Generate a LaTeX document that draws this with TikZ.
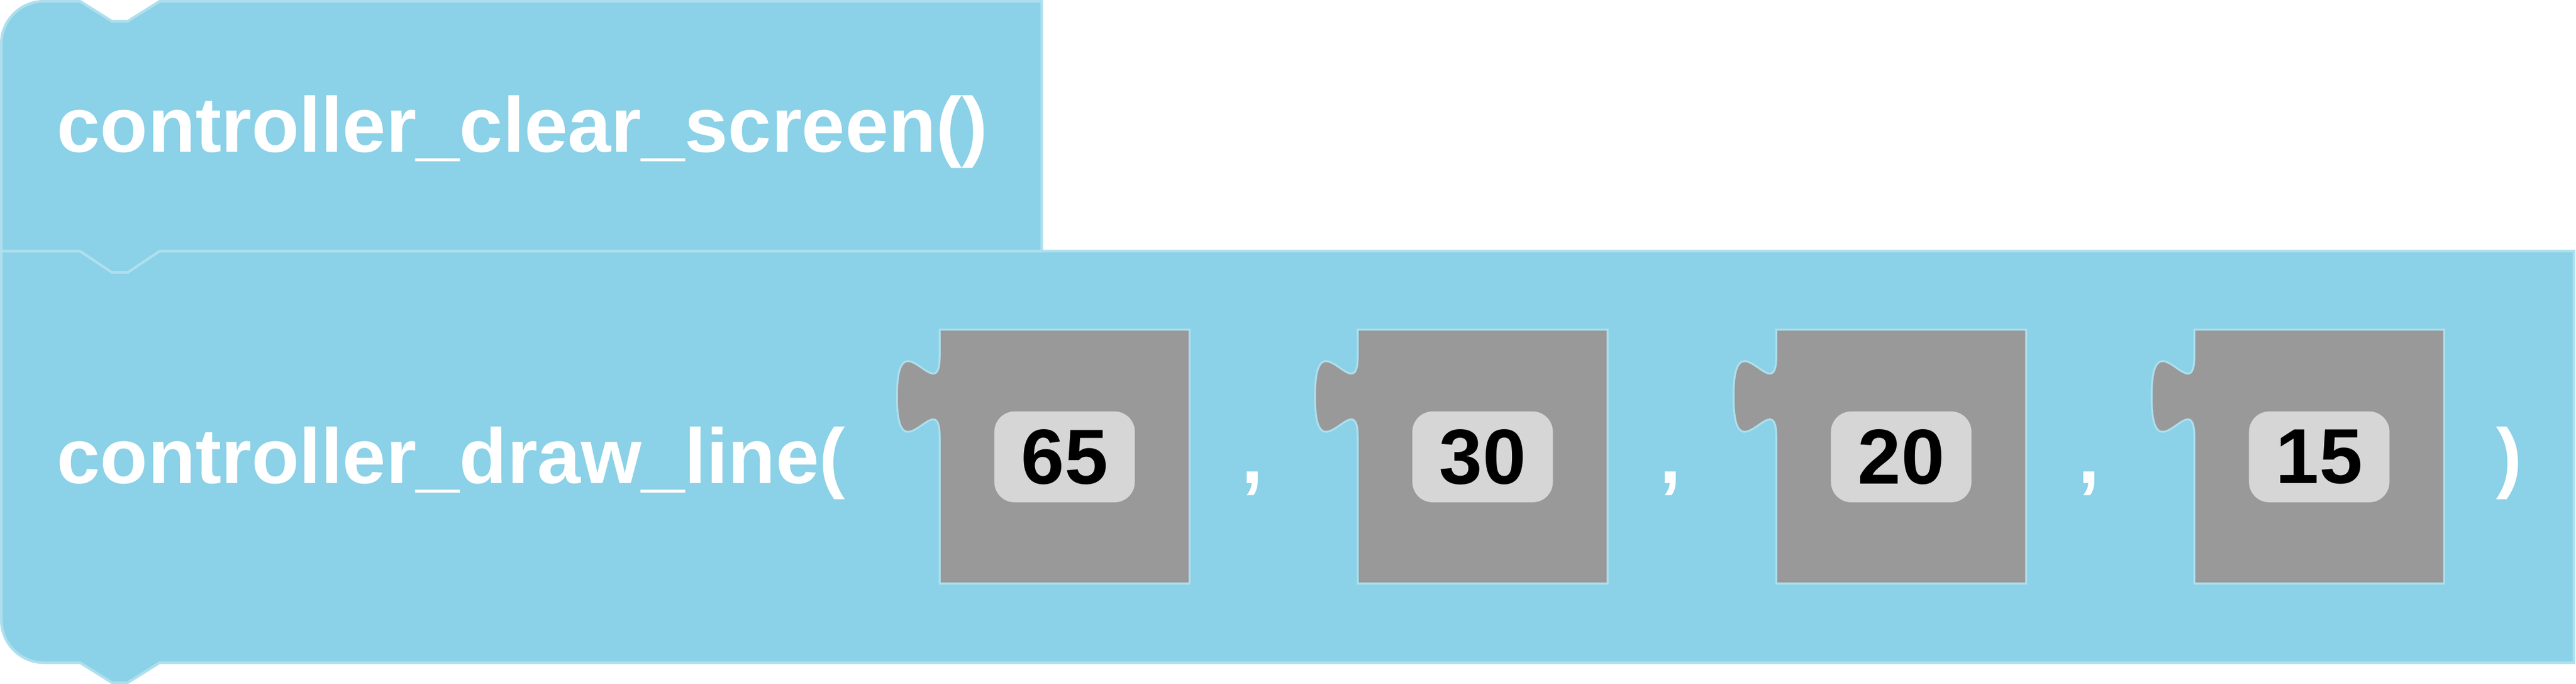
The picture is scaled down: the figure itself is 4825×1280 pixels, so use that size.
\documentclass[tikz,border=0pt]{standalone}
\usepackage{fontspec}
\setmainfont{Liberation Sans}

\definecolor{blockblue}{HTML}{8BD1E7}
\definecolor{blockedge}{HTML}{ADDFEE}
\definecolor{slotgrey}{HTML}{999999}
\definecolor{valgrey}{HTML}{D6D6D6}

\begin{document}
\begin{tikzpicture}[x=0.01cm, y=-0.01cm,
        blockshape/.style={fill=blockblue, draw=blockedge, line width=0.05cm},
        slotshape/.style={fill=slotgrey, draw=blockedge, line width=0.035cm},
        codetext/.style={text=white, inner sep=0pt, anchor=base west, font=\fontsize{41.5pt}{50pt}\selectfont\bfseries},
        valbox/.style={fill=valgrey, text=black, inner sep=0pt, rounded corners=0.38cm, minimum width=2.63cm, minimum height=1.7cm, font=\fontsize{41.5pt}{50pt}\selectfont\bfseries}]

                    \useasboundingbox (0, 0) rectangle (4825, 1280);

                    \filldraw[blockshape] (2.5, 470) -- (150, 470) -- (210, 510) -- (239, 510) -- (299, 470) -- (4821, 470) -- (4821, 1240) -- (299, 1240) -- (239, 1277.5) -- (210, 1277.5) -- (150, 1240) -- (82, 1240) .. controls (38, 1240) and (2.5, 1204) .. (2.5, 1160) -- cycle;
                    \filldraw[blockshape] (2.5, 470) -- (2.5, 82) .. controls (2.5, 38) and (38, 2.5) .. (82, 2.5) -- (150, 2.5) -- (210, 40) -- (239, 40) -- (299, 2.5) -- (1951, 2.5) -- (1951, 470) -- (299, 470) -- (239, 510) -- (210, 510) -- (150, 470) -- cycle;

                    \node[codetext] (clearscreen) at (106, 285) {controller\_clear\_screen()};
                    \node[codetext] (drawline) at (106, 905) {controller\_draw\_line(};


                    \filldraw[slotshape] (1760, 617) -- (1760, 667) .. controls (1760, 767) and (1680, 587) .. (1680, 742) .. controls (1680, 897) and (1760, 717) .. (1760, 817) -- (1760, 1092) -- (2228, 1092) -- (2228, 617) -- cycle;
                    \node[valbox] (val1) at (1994, 855) {65};

                    \filldraw[slotshape] (2543, 617) -- (2543, 667) .. controls (2543, 767) and (2463, 587) .. (2463, 742) .. controls (2463, 897) and (2543, 717) .. (2543, 817) -- (2543, 1092) -- (3011, 1092) -- (3011, 617) -- cycle;
                    \node[valbox] (val2) at (2777, 855) {30};

                    \filldraw[slotshape] (3327, 617) -- (3327, 667) .. controls (3327, 767) and (3247, 587) .. (3247, 742) .. controls (3247, 897) and (3327, 717) .. (3327, 817) -- (3327, 1092) -- (3795, 1092) -- (3795, 617) -- cycle;
                    \node[valbox] (val3) at (3561, 855) {20};

                    \filldraw[slotshape] (4110, 617) -- (4110, 667) .. controls (4110, 767) and (4030, 587) .. (4030, 742) .. controls (4030, 897) and (4110, 717) .. (4110, 817) -- (4110, 1092) -- (4578, 1092) -- (4578, 617) -- cycle;
                    \node[valbox] (val4) at (4344, 855) {15};


                    \node[codetext, anchor=base] (comma1) at (2345.5, 905) {,};
                    \node[codetext, anchor=base] (comma2) at (3128.5, 905) {,};
                    \node[codetext, anchor=base] (comma3) at (3912.5, 905) {,};
                    \node[codetext, anchor=base] (closeparen) at (4700, 905) {)};

                \end{tikzpicture}
\end{document}
